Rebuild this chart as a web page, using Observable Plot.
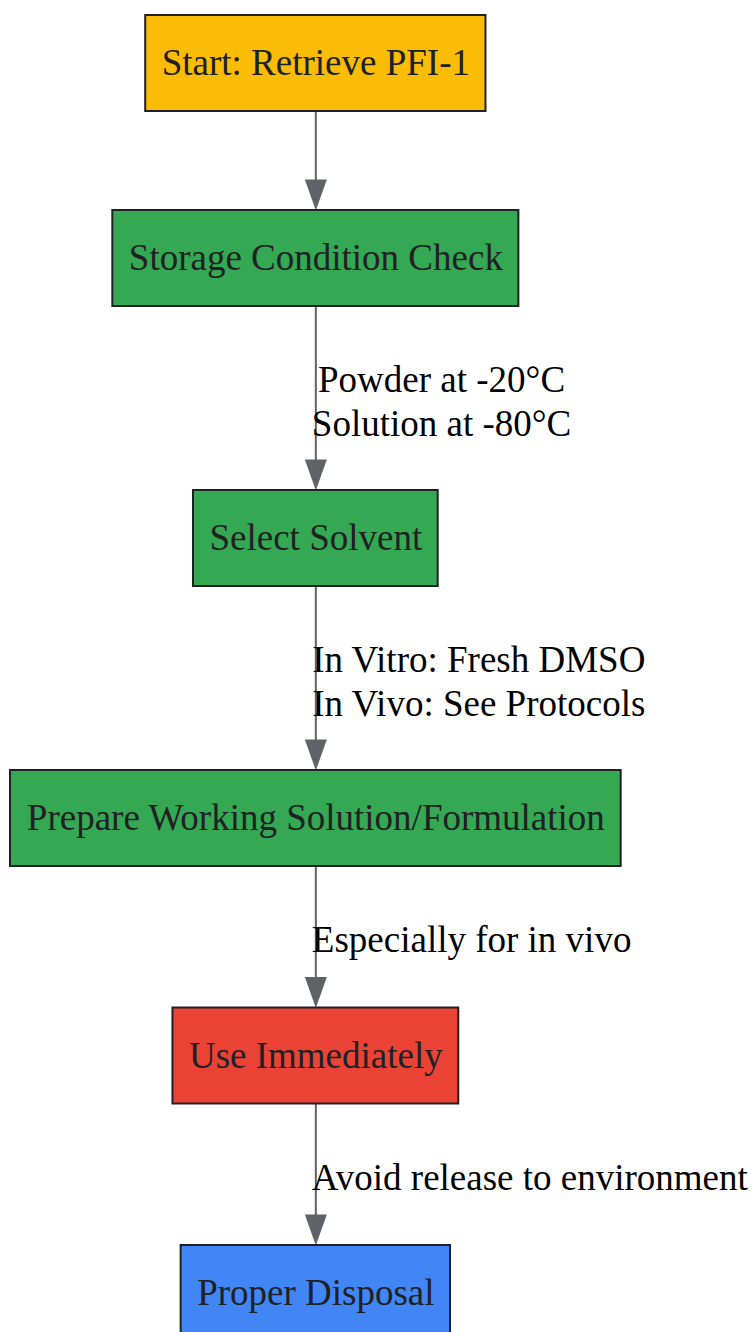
<!DOCTYPE html>
<html>
<head>
<meta charset="utf-8">
<script src="https://cdn.jsdelivr.net/npm/d3@7"></script>
<script src="https://cdn.jsdelivr.net/npm/@observablehq/plot@0.6"></script>
<style>
  html, body { margin: 0; padding: 0; background: #fff; }
  #chart svg { display: block; }
</style>
</head>
<body>
<div id="chart"></div>
<script>
// ---- data ----
const steps = [
  "Start: Retrieve PFI-1",
  "Storage Condition Check",
  "Select Solvent",
  "Prepare Working Solution/Formulation",
  "Use Immediately",
  "Proper Disposal"
];
const stepKinds = ["start", "step", "step", "step", "warn", "end"];
const kindColors = { start: "#FBBC05", step: "#34A853", warn: "#EA4335", end: "#4285F4" };
// label on the edge leading INTO step i (i >= 1)
const edgeLabels = [
  null,
  [],
  ["Powder at -20°C", "Solution at -80°C"],
  ["In Vitro: Fresh DMSO", "In Vivo: See Protocols"],
  ["Especially for in vivo"],
  ["Avoid release to environment"]
];

// ---- layout ----
const W = 754, H = 1332;
const FONT = "'Liberation Serif', 'Times New Roman', serif";
const FS = 37;
const ctx = document.createElement("canvas").getContext("2d");
ctx.font = `${FS}px ${FONT}`;
const measure = s => ctx.measureText(s).width;

const pad = 16, boxH = 96, top0 = 15, leftMargin = 10;
const baseGap = 99, perLine = 42.5;
const arrowLen = 31, arrowHalf = 11;

const widths = steps.map(s => measure(s) + 2 * pad);
const cx = leftMargin + d3.max(widths) / 2;

const nodes = [];
let y = top0;
steps.forEach((s, i) => {
  if (i > 0) y += baseGap + perLine * edgeLabels[i].length;
  nodes.push({ label: s, kind: stepKinds[i], x1: cx - widths[i] / 2, x2: cx + widths[i] / 2, y1: y, y2: y + boxH });
  y += boxH;
});

const edges = nodes.slice(1).map((n, k) => {
  const prev = nodes[k];
  const lines = edgeLabels[k + 1];
  const maxW = lines.length ? d3.max(lines, measure) : 0;
  return {
    x: cx, y1: prev.y2, y2: n.y1 - arrowLen + 2, tipY: n.y1,
    text: lines.join("\n"),
    lx: cx - 4 + maxW / 2,
    ly: (prev.y2 + n.y1) / 2 + 1
  };
});

const arrowHead = {
  draw(context) {
    context.moveTo(0, 0);
    context.lineTo(-arrowHalf, -arrowLen);
    context.lineTo(arrowHalf, -arrowLen);
    context.closePath();
  }
};

const chart = Plot.plot({
  width: W, height: H,
  margin: 0,
  x: { domain: [0, W], range: [0, W], axis: null },
  y: { domain: [0, H], range: [0, H], axis: null },
  style: { background: "#fff", overflow: "visible" },
  marks: [
    Plot.link(edges, { x1: "x", x2: "x", y1: "y1", y2: "y2", stroke: "#5f6368", strokeWidth: 2 }),
    Plot.dot(edges, { x: "x", y: "tipY", symbol: arrowHead, fill: "#5f6368", stroke: "none", r: 5 }),
    Plot.rect(nodes, { x1: "x1", x2: "x2", y1: "y1", y2: "y2", fill: d => kindColors[d.kind], stroke: "#202124", strokeWidth: 2 }),
    Plot.text(nodes, { x: cx, y: d => (d.y1 + d.y2) / 2, text: "label", fontSize: FS, fontFamily: FONT, fill: "#202124", textAnchor: "middle", lineAnchor: "middle" }),
    Plot.text(edges.filter(e => e.text), { x: "lx", y: "ly", text: "text", fontSize: FS, fontFamily: FONT, fill: "#000", textAnchor: "middle", lineAnchor: "middle", lineHeight: 44 / 37 })
  ]
});
document.getElementById("chart").append(chart);
</script>
</body>
</html>
